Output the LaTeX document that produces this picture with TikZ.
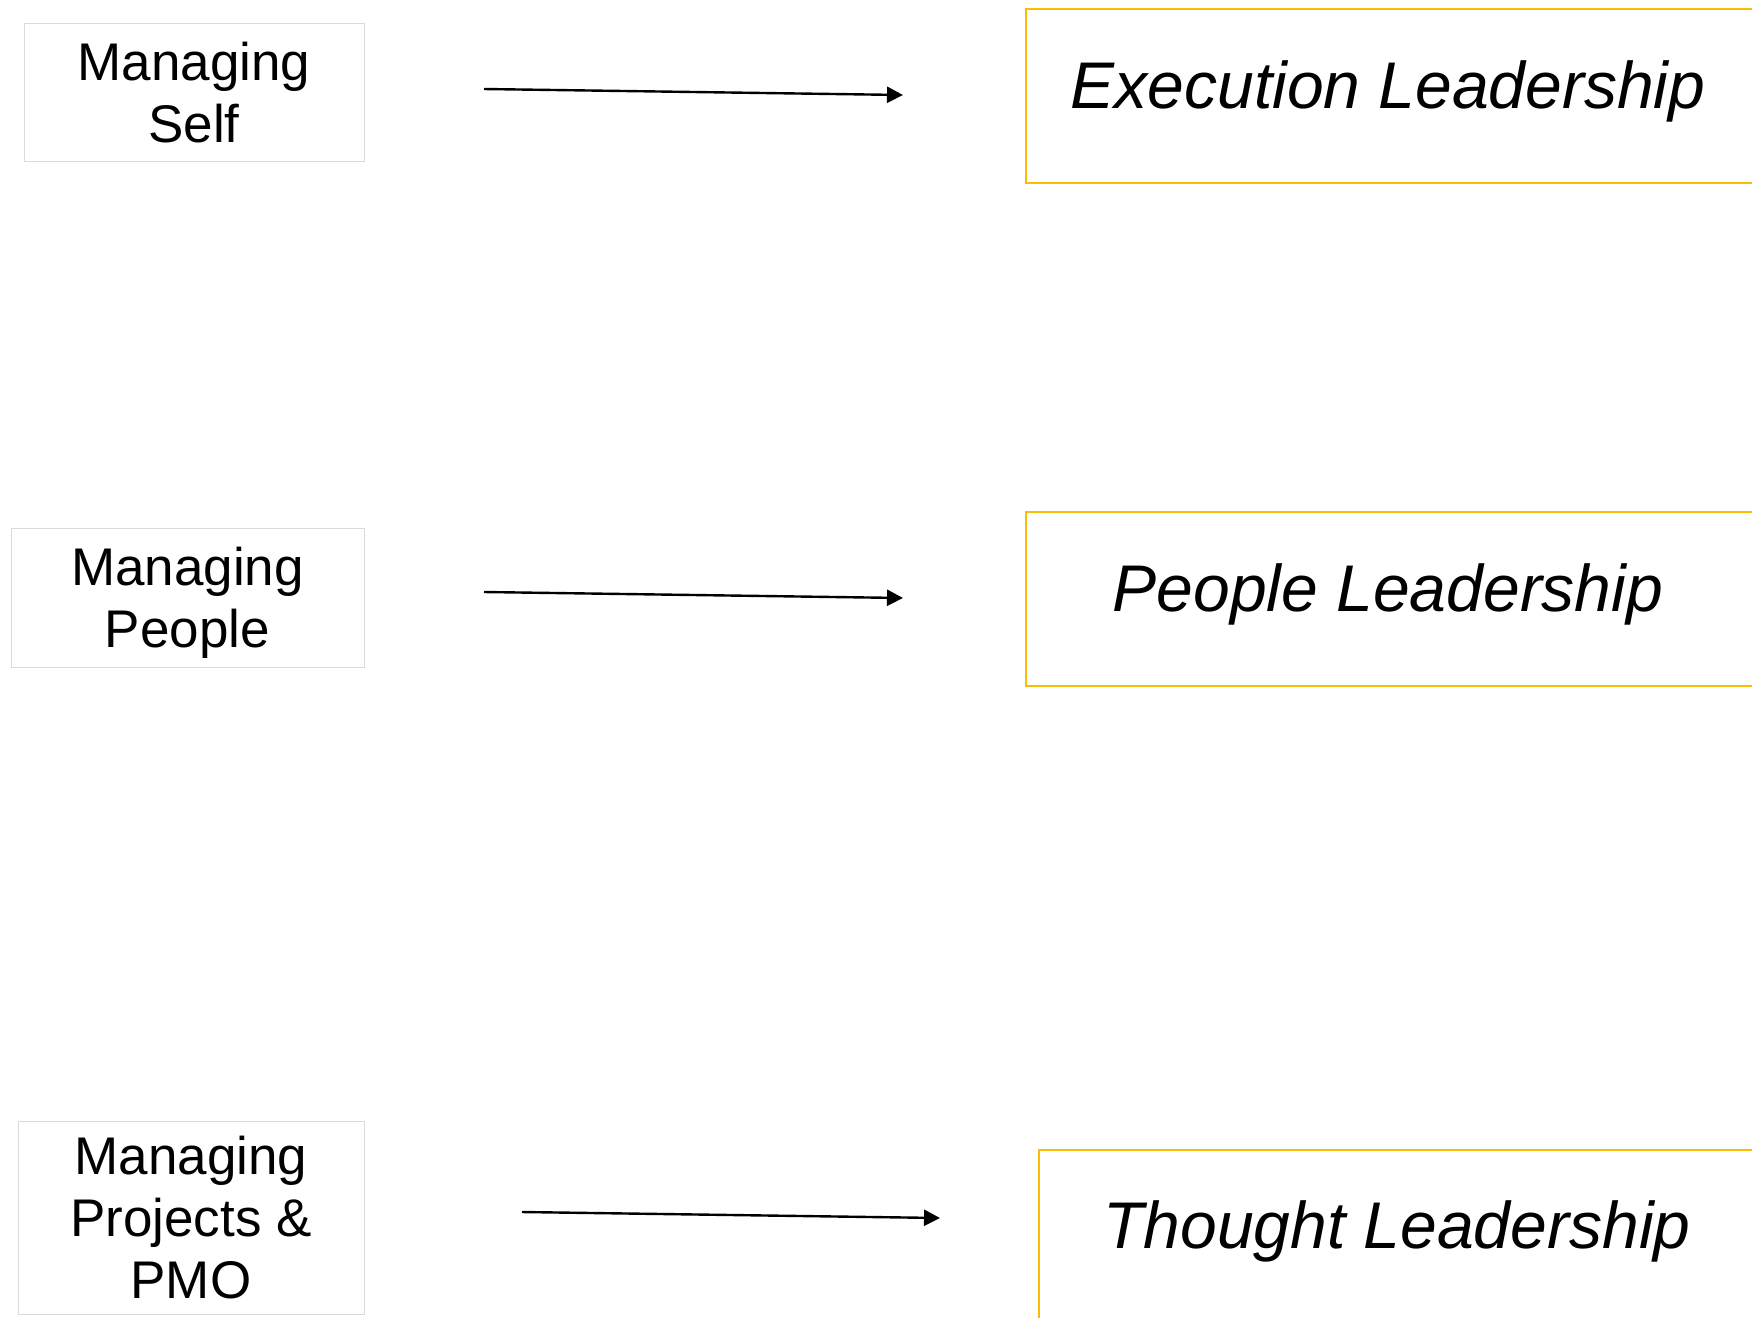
\documentclass[tikz,border=0pt]{standalone}
\usepackage{fontspec}
\setmainfont{Liberation Sans}
\usetikzlibrary{arrows.meta,positioning}
\definecolor{leadyellow}{RGB}{251,188,4}
\definecolor{boxgray}{RGB}{218,218,218}

\begin{document}
\begin{tikzpicture}[x=0.5pt,y=-0.5pt,
        >={Triangle[length=8pt,width=8pt]},
        mgmt/.style={draw=boxgray,line width=0.5pt,align=center,inner sep=0pt,
            text depth=0pt,font=\fontsize{26.5}{31}\selectfont},
        lead/.style={draw=leadyellow,line width=1pt,anchor=north west,
            minimum width=375pt,inner sep=0pt},
        leadtext/.style={anchor=base,inner sep=0pt,
            font=\fontsize{33}{40}\selectfont\itshape},
        link/.style={->,line width=1.2pt}]
        \useasboundingbox (0,0) rectangle (1752,1318);

        % managing side
        \node[mgmt,minimum width=170pt,minimum height=69pt]   at (194,92)      (self)     {Managing\\Self};
        \node[mgmt,minimum width=176.5pt,minimum height=69.5pt] at (187.5,597.5) (people) {Managing\\People};
        \node[mgmt,minimum width=173pt,minimum height=96.5pt] at (191,1217.5)  (projects) {Managing\\Projects \&\\PMO};

        % leadership side
        \node[lead,minimum height=87pt]         at (1025,8)      (exec)     {};
        \node[leadtext]                         at (1388,108)    (execlbl)  {Execution Leadership};
        \node[lead,minimum height=87pt]         at (1025,511)    (peoplead) {};
        \node[leadtext]                         at (1388,611)    (peoplbl)  {People Leadership};
        \node[lead,minimum height=125pt]        at (1038,1149)   (thought)  {};
        \node[leadtext]                         at (1397,1248)   (thoulbl)  {Thought Leadership};

        \coordinate (selfout)     at (484,89);
        \coordinate (execin)      at (903,95);
        \coordinate (peopleout)   at (484,592);
        \coordinate (peoplein)    at (903,598);
        \coordinate (projectsout) at (522,1212);
        \coordinate (thoughtin)   at (940,1218);

        \draw[link] (selfout)     -- (execin);
        \draw[link] (peopleout)   -- (peoplein);
        \draw[link] (projectsout) -- (thoughtin);
    \end{tikzpicture}
\end{document}
